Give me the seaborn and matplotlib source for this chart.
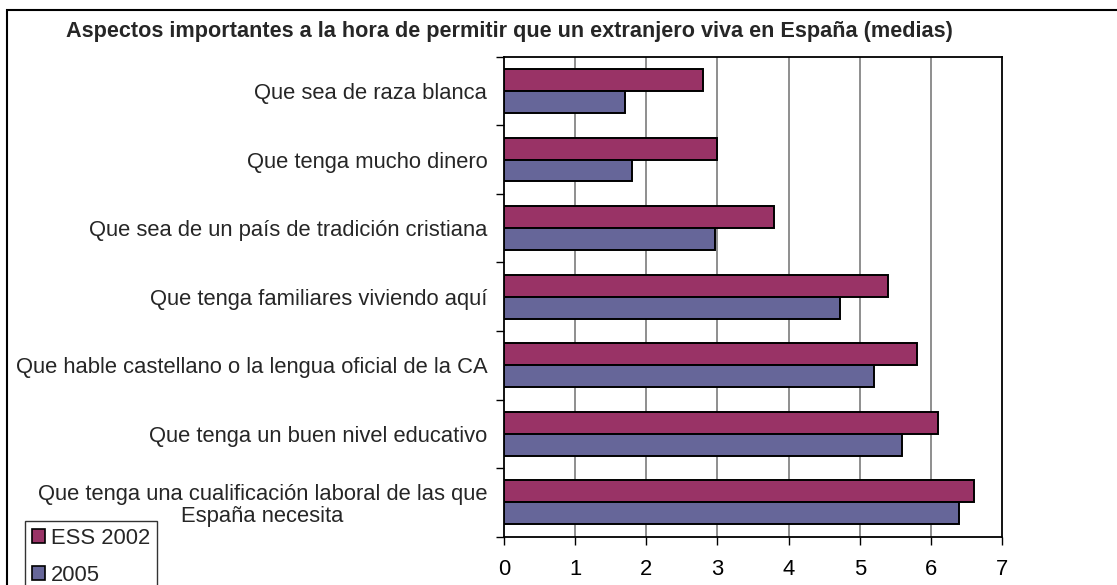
import matplotlib
matplotlib.use("Agg")
import matplotlib.pyplot as plt
import matplotlib.patches as mpatches
import seaborn as sns
import pandas as pd
import numpy as np

categories = [
    "Que sea de raza blanca",
    "Que tenga mucho dinero",
    "Que sea de un país de tradición cristiana",
    "Que tenga familiares viviendo aquí",
    "Que hable castellano o la lengua oficial de la CA",
    "Que tenga un buen nivel educativo",
    "Que tenga una cualificación laboral de las que\nEspaña necesita",
]
series_names = ["ESS 2002", "2005"]
ess2002 = [2.8, 3.0, 3.8, 5.4, 5.8, 6.1, 6.6]
y2005 = [1.7, 1.8, 2.97, 4.72, 5.2, 5.6, 6.4]
xticks = [0, 1, 2, 3, 4, 5, 6, 7]
title = "Aspectos importantes a la hora de permitir que un extranjero viva en España (medias)"
colors = ["#993366", "#666699"]

df = pd.DataFrame({
    "cat": categories * 2,
    "val": ess2002 + y2005,
    "serie": [series_names[0]] * len(categories) + [series_names[1]] * len(categories),
})

sns.set_style("white")
plt.rcParams['font.family'] = ['Liberation Sans', 'DejaVu Sans']

W, H = 1117, 585
fig = plt.figure(figsize=(W / 100, H / 100), dpi=100)
ax = fig.add_axes([504 / W, 1 - 536.7 / H, (1002 - 504) / W, (536.7 - 56.7) / H])

sns.barplot(data=df, y="cat", x="val", hue="serie", hue_order=series_names,
            order=categories, orient="h", palette=colors, saturation=1,
            width=0.64, edgecolor="black", linewidth=1.4, ax=ax, legend=False,
            errorbar=None, zorder=3)

FS = 15.8
ax.set_xlim(0, 7)
ax.set_ylim(len(categories) - 0.5, -0.5)
ax.set_xticks(xticks)
ax.set_xticklabels([str(t) for t in xticks], fontsize=FS)
ax.tick_params(axis="x", length=6, width=1, direction="out", pad=10, bottom=True, colors="black")
ax.set_yticks(range(len(categories)))
ax.set_yticklabels(categories, fontsize=FS, multialignment="center", linespacing=1.05)
ax.tick_params(axis="y", which="major", length=0, pad=12)
ax.set_yticks(np.arange(-0.5, len(categories), 1.0), minor=True)
ax.tick_params(axis="y", which="minor", length=6, width=1, direction="out", left=True, color="black")
ax.set_xlabel("")
ax.set_ylabel("")
ax.grid(False)
for x in xticks[1:-1]:
    ax.axvline(x, color="#707070", lw=1.1, zorder=1)
for s in ax.spines.values():
    s.set_visible(True)
    s.set_color("black")
    s.set_linewidth(1.3)

fig.text(509 / W, 1 - 32 / H, title, ha="center", va="center", fontsize=15.6, fontweight="bold")

handles = [mpatches.Patch(facecolor=c, edgecolor="black", linewidth=1.2) for c in colors]
leg = fig.legend(handles, series_names, loc="upper left", bbox_to_anchor=(25 / W, 1 - 521 / H),
                 fontsize=FS, frameon=True, fancybox=False, edgecolor="black",
                 handlelength=0.6, handleheight=0.6, handletextpad=0.3, labelspacing=0.75,
                 borderpad=0.3, borderaxespad=0)
leg.get_frame().set_linewidth(1.0)

border = mpatches.Rectangle((7 / W, -0.2), 1.5, 1 - 10 / H + 0.2, transform=fig.transFigure,
                            fill=False, edgecolor="black", lw=1.5, clip_on=False)
fig.patches.append(border)

fig.savefig("out.png", dpi=100)
